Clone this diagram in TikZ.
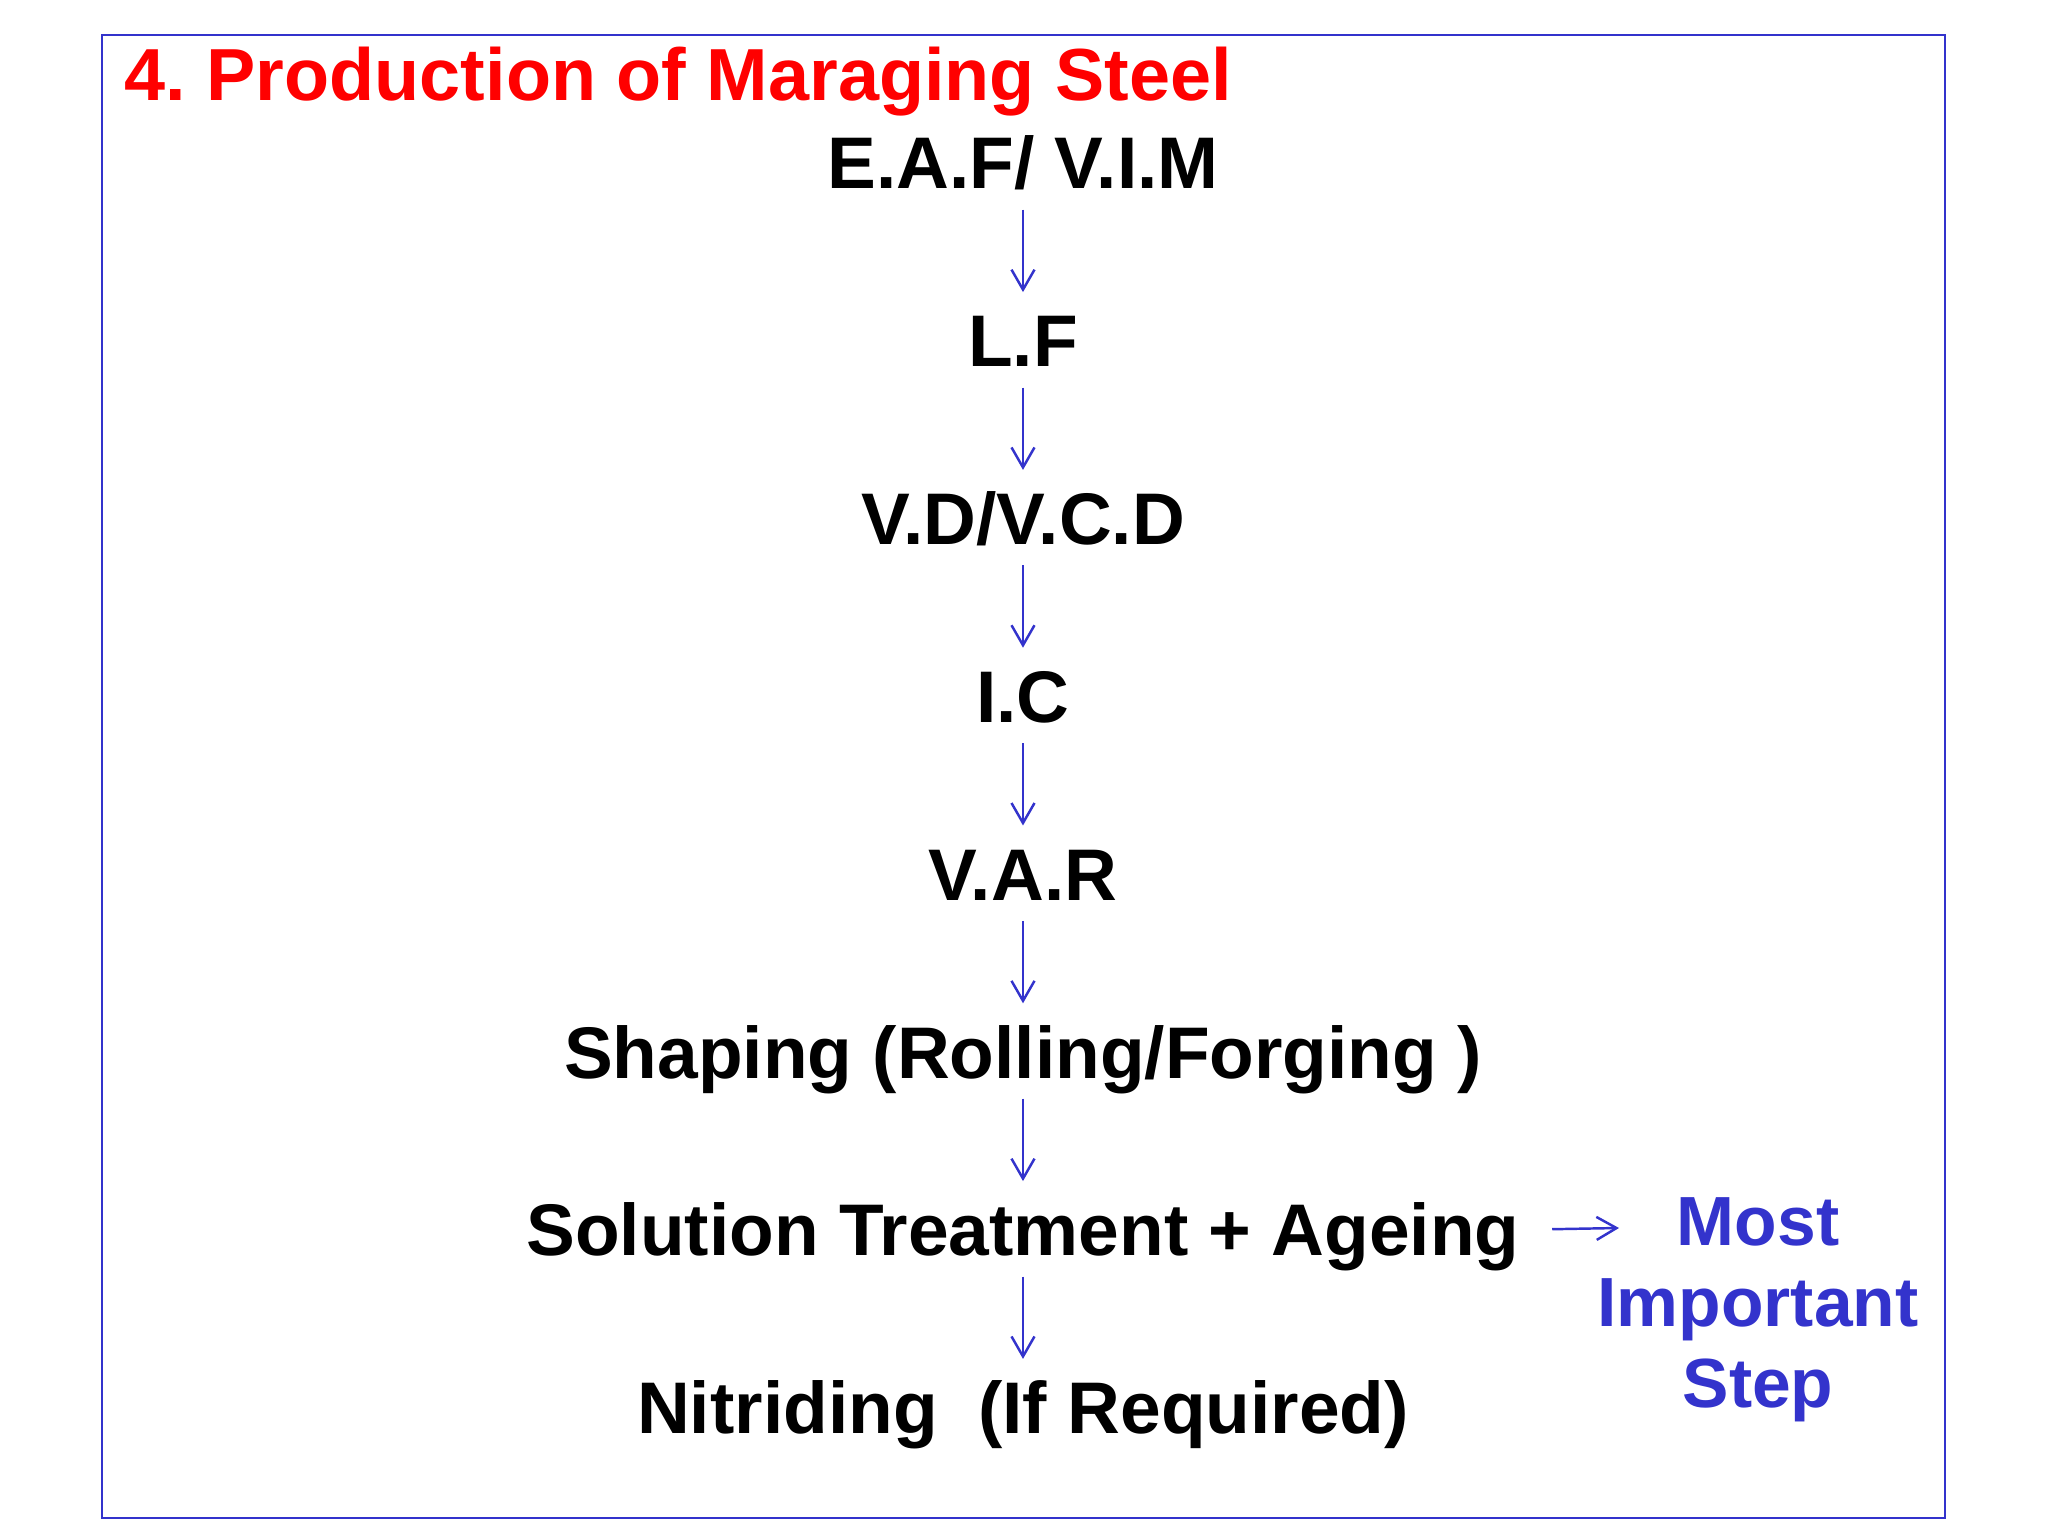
\documentclass[tikz,border=0pt]{standalone}
\usepackage{fontspec}
\setmainfont{Liberation Sans}
\usetikzlibrary{arrows.meta}
\definecolor{slideblue}{RGB}{51,51,204}
\tikzset{
	stage/.style={anchor=base, inner sep=0pt, text height=0.52cm, text depth=0pt, font=\fontsize{20.8}{24}\selectfont\bfseries},
	flow/.style={draw=slideblue, line width=0.7pt, -{Straight Barb[length=0.2cm,width=0.23cm]}, shorten <=0.2cm, shorten >=0.22cm}
}
\frenchspacing

\begin{document}
\begin{tikzpicture}
		%%%%% START %%%%%
		
		\useasboundingbox (0, 0) rectangle (20.48, -15.36);
		\draw[line width=0.75pt, color=slideblue] (1.02, -0.35) rectangle (19.45, -15.18);
		
		\node[anchor=base west, inner sep=0pt, text=red, font=\fontsize{21}{24}\selectfont\bfseries] (title) at (1.24, -1.005) {4. Production of Maraging Steel};
		
		\node[stage] (eaf) at (10.23, -1.89) {E.A.F/ V.I.M};
		\node[stage] (lf) at (10.23, -3.668) {L.F};
		\node[stage] (vd) at (10.23, -5.446) {V.D/V.C.D};
		\node[stage] (ic) at (10.23, -7.224) {I.C};
		\node[stage] (var) at (10.23, -9.002) {V.A.R};
		\node[stage] (shaping) at (10.23, -10.78) {Shaping (Rolling/Forging )};
		\node[stage] (sol) at (10.23, -12.558) {Solution Treatment + Ageing};
		\node[stage] (nit) at (10.23, -14.336) {Nitriding~~(If Required)};
		
		\draw[flow] (eaf) -- (lf);
		\draw[flow] (lf) -- (vd);
		\draw[flow] (vd) -- (ic);
		\draw[flow] (ic) -- (var);
		\draw[flow] (var) -- (shaping);
		\draw[flow] (shaping) -- (sol);
		\draw[flow] (sol) -- (nit);
		
		\node[anchor=north, align=center, inner sep=0pt, text=slideblue, font=\fontsize{19.8}{23}\selectfont\bfseries] (note) at (17.58, -11.97) {Most\\Important\\Step};
		
		\coordinate (tip) at (16.19, -12.28);
		\draw[flow, shorten <=0.32cm, shorten >=0pt] (sol.east) -- (tip);
		
		%%%%% END %%%%%
	\end{tikzpicture}
\end{document}
